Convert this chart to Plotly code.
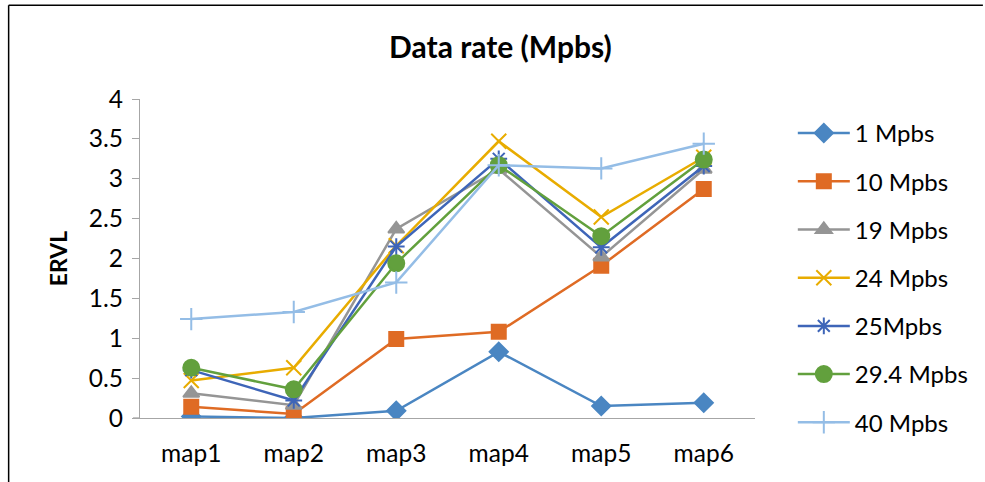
import plotly.graph_objects as go

# Categories and ERVL values per data rate
maps = ["map1", "map2", "map3", "map4", "map5", "map6"]

rate_1 = [0.02, 0.00, 0.09, 0.83, 0.15, 0.19]
rate_10 = [0.14, 0.05, 0.99, 1.08, 1.91, 2.87]
rate_19 = [0.31, 0.16, 2.37, 3.12, 2.02, 3.12]
rate_24 = [0.47, 0.63, 2.16, 3.47, 2.52, 3.27]
rate_25 = [0.60, 0.22, 2.15, 3.25, 2.14, 3.16]
rate_29_4 = [0.63, 0.36, 1.94, 3.17, 2.28, 3.24]
rate_40 = [1.24, 1.33, 1.70, 3.17, 3.13, 3.44]

series_names = ["1 Mpbs", "10 Mpbs", "19 Mpbs", "24 Mpbs", "25Mpbs", "29.4 Mpbs", "40 Mpbs"]
series_values = [rate_1, rate_10, rate_19, rate_24, rate_25, rate_29_4, rate_40]
series_colors = ["#4a86c2", "#df6b24", "#959595", "#e8ac00", "#3e65b8", "#62a03d", "#94bde6"]
series_symbols = ["diamond", "square", "triangle-up", "x-thin-open", "asterisk-open",
                  "circle", "cross-thin-open"]
series_sizes = [14, 14, 14, 15, 14, 16, 16]

y_ticks = [0, 0.5, 1, 1.5, 2, 2.5, 3, 3.5, 4]

FONT = "Lato, 'Open Sans', sans-serif"

fig = go.Figure()
for name, vals, col, sym, sz in zip(series_names, series_values, series_colors,
                                    series_symbols, series_sizes):
    fig.add_trace(go.Scatter(
        x=maps, y=vals, name=name, mode="lines+markers",
        legendgroup=name,
        line=dict(color=col, width=2.5),
        marker=dict(symbol=sym, size=sz, color=col,
                    line=dict(color=col, width=2)),
    ))

# plot-area geometry in pixels
W, H = 985, 482
L, R, T, B = 140, 758, 99, 418.5
pw, ph = R - L, B - T


def px_x(p):
    return (p - L) / pw


def px_y(p):
    return (B - p) / ph


fig.update_layout(
    width=W, height=H,
    margin=dict(l=L, r=W - R, t=T, b=H - B),
    paper_bgcolor="white", plot_bgcolor="white",
    font=dict(family=FONT, size=24, color="#000000"),
    title=dict(text="<b>Data rate (Mpbs)</b>", x=0.508, xanchor="center",
               y=1 - 47 / H, yanchor="middle",
               font=dict(family=FONT, size=30, color="#000000")),
    xaxis=dict(type="category", range=[-0.5, 5.5], showgrid=False,
               showline=True, linecolor="#a6a6a6", linewidth=1.3,
               ticks="", tickfont=dict(size=24.5), ticklabelstandoff=13,
               zeroline=False, fixedrange=True),
    yaxis=dict(range=[0, 4], tickvals=y_ticks,
               ticktext=[f"{v:g}" for v in y_ticks],
               showgrid=False, showline=True, linecolor="#a6a6a6", linewidth=1.3,
               ticks="outside", ticklen=7, tickcolor="#a6a6a6", tickwidth=1.3,
               tickfont=dict(size=24.5), ticklabelstandoff=4, zeroline=False,
               title=dict(text="<b>ERVL</b>", font=dict(size=23), standoff=14),
               fixedrange=True),
    legend=dict(x=px_x(796), y=px_y(111), xanchor="left", yanchor="top",
                font=dict(size=24), tracegroupgap=14, itemwidth=52,
                maxheight=460, bgcolor="rgba(0,0,0,0)"),
    showlegend=True,
    shapes=[
        # short axis stub left of the y axis at zero
        dict(type="line", xref="paper", yref="paper",
             x0=px_x(133), x1=0, y0=0, y1=0,
             line=dict(color="#a6a6a6", width=1.3)),
        # outer chart frame (left and top edges)
        dict(type="line", xref="paper", yref="paper",
             x0=px_x(8), x1=px_x(8), y0=px_y(H + 2), y1=px_y(5),
             line=dict(color="#000000", width=1.5)),
        dict(type="line", xref="paper", yref="paper",
             x0=px_x(8), x1=px_x(W + 2), y0=px_y(5), y1=px_y(5),
             line=dict(color="#000000", width=1.5)),
    ],
)

fig.write_html("out.html")
